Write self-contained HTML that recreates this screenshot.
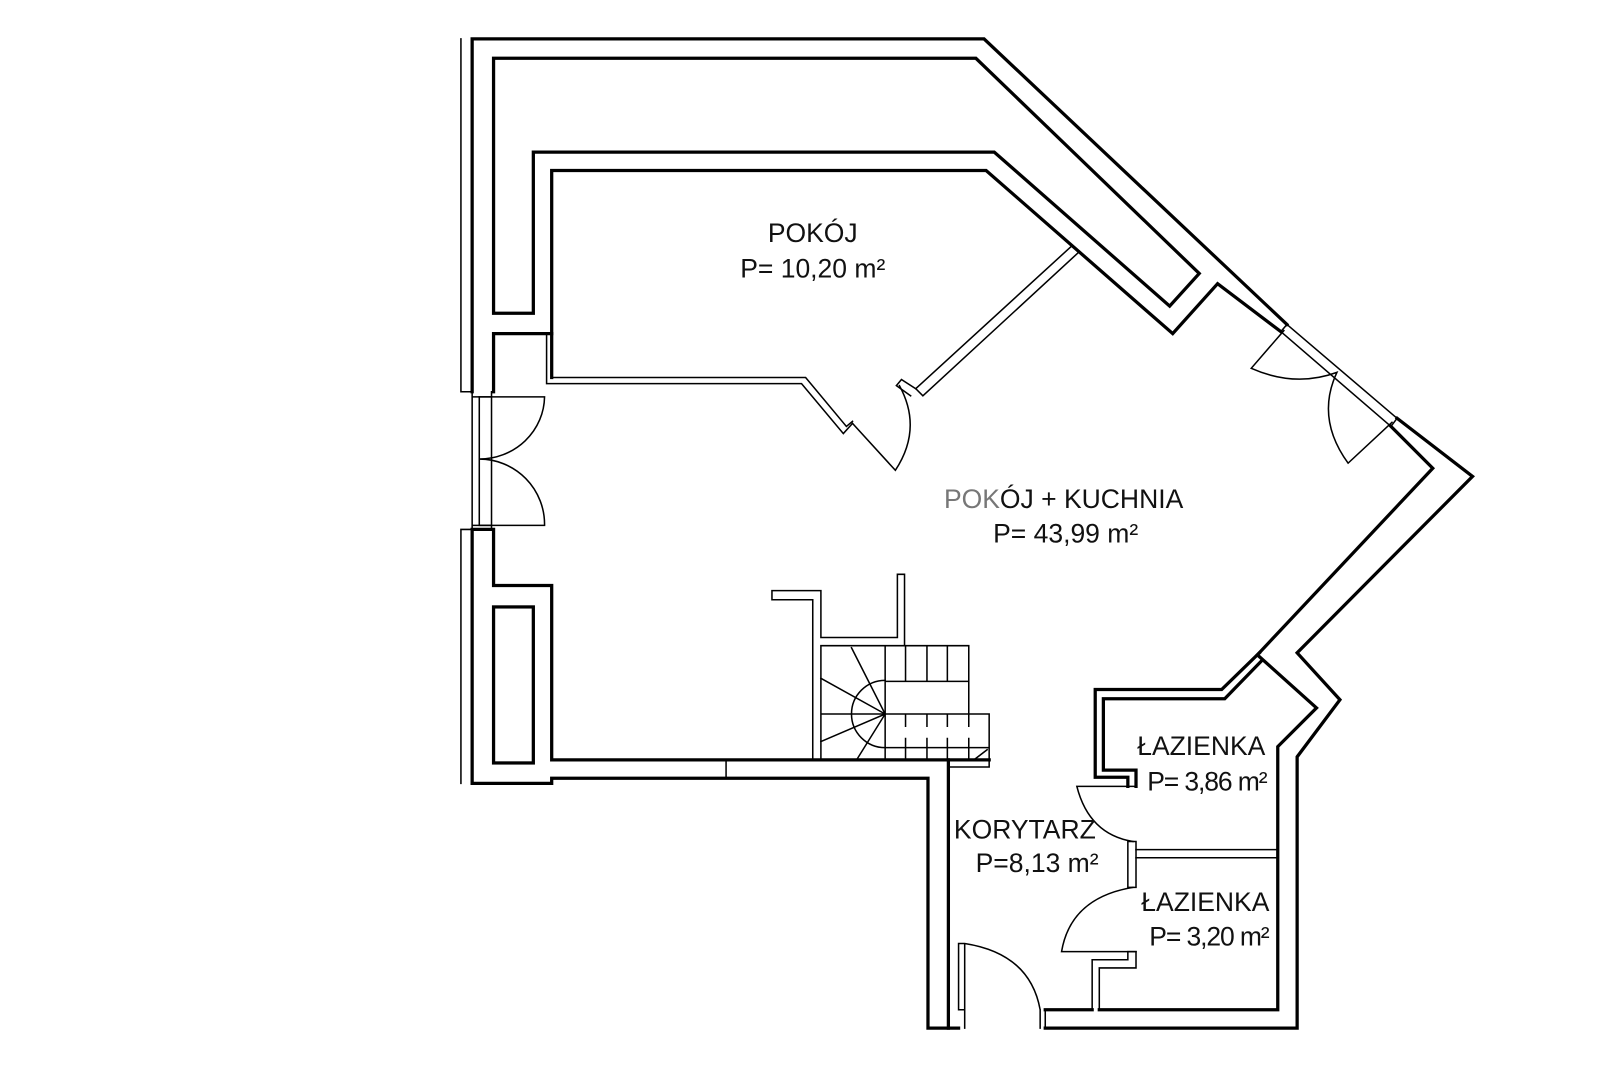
<!DOCTYPE html>
<html><head><meta charset="utf-8"><style>
html,body{margin:0;padding:0;background:#fff;width:1600px;height:1066px;overflow:hidden}
svg{display:block}
text{font-family:"Liberation Sans",sans-serif;font-size:26px;fill:#111;text-anchor:middle}
</style></head><body>
<svg width="1600" height="1066" viewBox="0 0 1569 1045" xmlns="http://www.w3.org/2000/svg">
<g fill="none" stroke="#000" stroke-linejoin="miter" stroke-linecap="square">
<g stroke-width="1.5">
<path d="M452,38 V384 H463"/>
<path d="M463,519 H452 V768"/>
<path d="M463,384 V519 M470,389 V515 M482,384 V519 M463,389 H482 M463,515 H482"/>
<path d="M470,389 H534 A64,62 0 0 1 470,450 A64,64 0 0 1 534,515 H470"/>
<path d="M1262,318 L1370,410 M1256,325 L1364,418 M1262,318 L1256,325 M1370,410 L1364,418"/>
<path d="M1259,324 L1227,361 Q1270,380 1311,365 Q1290,410 1322,454 L1365,414"/>
<path d="M536,327 V376 H786 L827,425 L836,415 M541,370 H790 L830,418 L836,413"/>
<path d="M1058,247 L905,388 L898,381 L1051,241"/>
<path d="M898,381 L884,372 L879,378 L893,388"/>
<path d="M836,415 L878,461 Q905,420 882,378"/>
<path d="M805,633 H950 V700 M805,633 V745 M868,633 V668 M888,633 V668 M909,633 V668 M929,633 V668 M868,668 H950 M805,700 H970 V752 H930 M868,733 H970 M868,733 V745 M888,733 V745 M909,733 V745 M929,733 V745 M950,733 V745 M888,700 V712 M909,700 V712 M929,700 V712 M950,700 V712 M888,724 V733 M909,724 V733 M929,724 V733 M950,724 V733 M868,668 V700 M868,700 V733"/>
<path d="M868,667 A33,33 0 0 0 868,733"/>
<path d="M868,700 L835,635 M868,700 L805,665 M868,700 L805,727 M868,700 L840,745 M955,745 L968,735"/>
<path d="M757,579 H805 V625 H880 V563 H887 V633 M757,579 V588 H797 V745"/>
<path d="M1114,771 H1056 Q1068,818 1111,825"/>
<path d="M1111,870 Q1050,880 1041,933 H1114"/>
<path d="M1106,825 H1114 V870 H1106 Z"/>
<path d="M1114,833 H1253 M1114,841 H1253"/>
<path d="M1071,990 V941 H1106 V933 H1114 V949 H1078 V990"/>
<path d="M940,990 V925 M946,990 V925 M940,925 H946 Q1010,935 1020,990 M940,990 H946 V1008 M1020,990 V1008 M1025,990 V1008"/>
<path d="M712,745 V763"/>
</g>
<g stroke-width="3.2">
<path d="M463,384 V38 H965 L1262,318"/>
<path d="M1370,410 L1444,467 L1272,640 L1314,686 L1272,742 V1008 H1025"/>
<path d="M940,1008 H910 V763 H541 V768 H463 V519 H484 V574 H541 V745 H970"/>
<path d="M930,745 V1008"/>
<path d="M1364,418 L1405,459 L1233,642 L1291,694 L1253,732 V990 H1078"/>
<path d="M1071,990 H1025"/>
<rect x="484" y="595" width="39" height="153"/>
<path d="M484,307 V57 H957 L1176,268 L1147,300 L975,149 H523 V307 Z"/>
<path d="M484,327 H541 M484,327 V384"/>
<path d="M541,370 V167 H967 L1150,327 L1194,278 L1256,325"/>
<path d="M1106,771 V762 H1074 V676 H1198 L1235,640"/>
<path d="M1114,771 V755 H1082 V685 H1201 L1238,647"/>
</g>
</g>
<text x="797" y="237">POKÓJ</text>
<text x="797" y="272">P= 10,20 m²</text>
<text x="1043" y="498"><tspan fill="#777">POK</tspan>ÓJ + KUCHNIA</text>
<text x="1045" y="532">P= 43,99 m²</text>
<text x="1178" y="740">ŁAZIENKA</text>
<text x="1184" y="775" textLength="118">P= 3,86 m²</text>
<text x="1005" y="822">KORYTARZ</text>
<text x="1017" y="855">P=8,13 m²</text>
<text x="1182" y="893">ŁAZIENKA</text>
<text x="1186" y="927" textLength="118">P= 3,20 m²</text>
</svg>
</body></html>
